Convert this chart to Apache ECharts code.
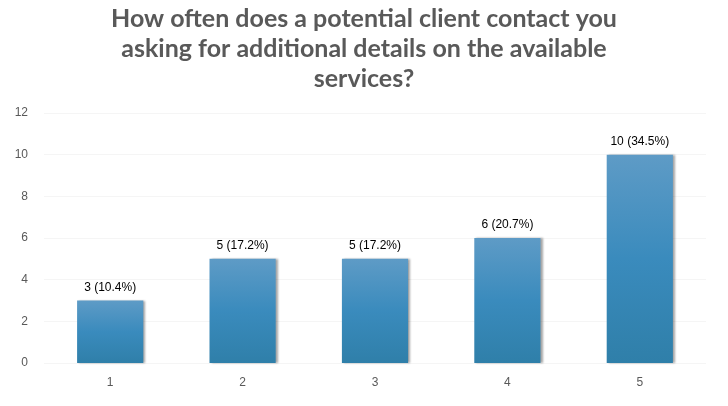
<!DOCTYPE html>
<html><head><meta charset="utf-8">
<script src="https://cdn.jsdelivr.net/npm/echarts@6/dist/echarts.min.js"></script>
<style>html,body{margin:0;padding:0;background:#fff}#c{width:728px;height:406px}</style>
</head><body><div id="c"></div>
<script>
const categories = ['1','2','3','4','5'];
const counts = [3,5,5,6,10];
const percents = ['10.4%','17.2%','17.2%','20.7%','34.5%'];
const titleText = 'How often does a potential client contact you\nasking for additional details on the available\nservices?';

const chart = echarts.init(document.getElementById('c'));
chart.setOption({
  animation:false,
  title:{text:titleText,left:'center',top:-1,textStyle:{fontFamily:'Lato',fontWeight:'bold',fontSize:25,color:'#595959',lineHeight:30}},
  grid:{left:44,right:22,top:113,bottom:43},
  xAxis:{type:'category',data:categories,axisLine:{show:false},axisTick:{show:false},
    axisLabel:{color:'#595959',fontSize:12,margin:14,fontFamily:'Liberation Sans'}},
  yAxis:{type:'value',min:0,max:12,interval:2,axisLine:{show:false},axisTick:{show:false},
    splitLine:{lineStyle:{color:'#f5f5f5'}},
    axisLabel:{color:'#595959',fontSize:12,margin:16,fontFamily:'Liberation Sans'}},
  series:[{type:'bar',data:counts,barWidth:'50%',
    itemStyle:{color:new echarts.graphic.LinearGradient(0,0,0,1,[{offset:0,color:'#5e9bc6'},{offset:0.5,color:'#3a8bbd'},{offset:1,color:'#2f7fa9'}]),
      shadowColor:'rgba(0,0,0,0.35)',shadowBlur:2,shadowOffsetX:2,shadowOffsetY:0},
    label:{show:true,position:'top',distance:7,color:'#000',fontSize:12,fontFamily:'Liberation Sans',
      formatter:p=>p.value+' ('+percents[p.dataIndex]+')'}}]
});
</script></body></html>
